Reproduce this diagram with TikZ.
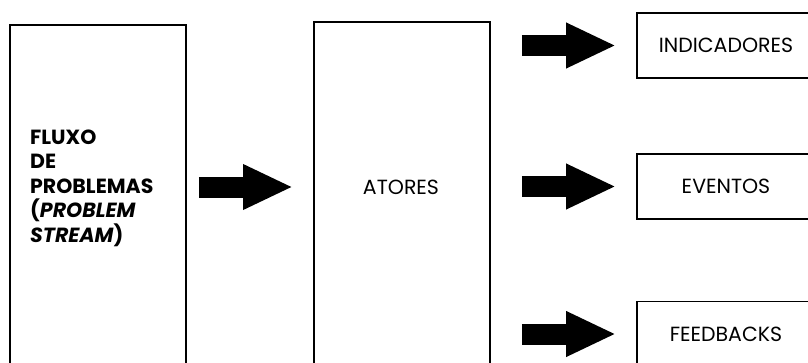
\documentclass[tikz,border=0pt]{standalone}
\usepackage{fontspec}
\setmainfont{Poppins}
\usetikzlibrary{arrows.meta,positioning}

\begin{document}
\begin{tikzpicture}[
    x=1pt, y=-1pt,
    tallbox/.style={draw=black, line width=1.8pt, minimum width=176pt, minimum height=420pt, inner sep=0pt},
    outbox/.style={draw=black, line width=1.8pt, minimum width=178pt, minimum height=65pt, inner sep=0pt, font=\fontsize{20.5}{24}\selectfont},
    boxtext/.style={inner sep=0pt, font=\fontsize{20.5}{24.5}\selectfont},
    bigarrow/.style={line width=21pt, -{Triangle[length=50pt,width=42pt]}}
]
\useasboundingbox (0,0) rectangle (808,362);
\clip (0,0) rectangle (808,362);

% the two tall columns
\node[tallbox, anchor=north west] (problemas) at (9,24) {};
\node[boxtext, anchor=west, align=left, font=\fontsize{20.5}{24.5}\selectfont\bfseries] (problemas-txt) at (30,188)
    {FLUXO\\DE\\PROBLEMAS\\(\textit{PROBLEM}\\\textit{STREAM})};
\node[tallbox, anchor=north west] (atores) at (313,21) {};
\node[boxtext] (atores-txt) at (401,187) {ATORES};

% outputs on the right
\node[outbox] (indicadores) at (726,45.5) {INDICADORES};
\node[outbox] (eventos) at (726,186.5) {EVENTOS};
\node[outbox] (feedbacks) at (726,334) {FEEDBACKS};

\draw[bigarrow, shorten <=12pt, shorten >=20pt] (atores-txt -| problemas.east) -- (atores-txt -| atores.west);
\draw[bigarrow, shorten <=31pt, shorten >=20pt] (indicadores.west -| atores.east) -- (indicadores.west);
\draw[bigarrow, shorten <=31pt, shorten >=20pt] (eventos.west -| atores.east) -- (eventos.west);
\draw[bigarrow, shorten <=31pt, shorten >=20pt] (feedbacks.west -| atores.east) -- (feedbacks.west);
\end{tikzpicture}
\end{document}
